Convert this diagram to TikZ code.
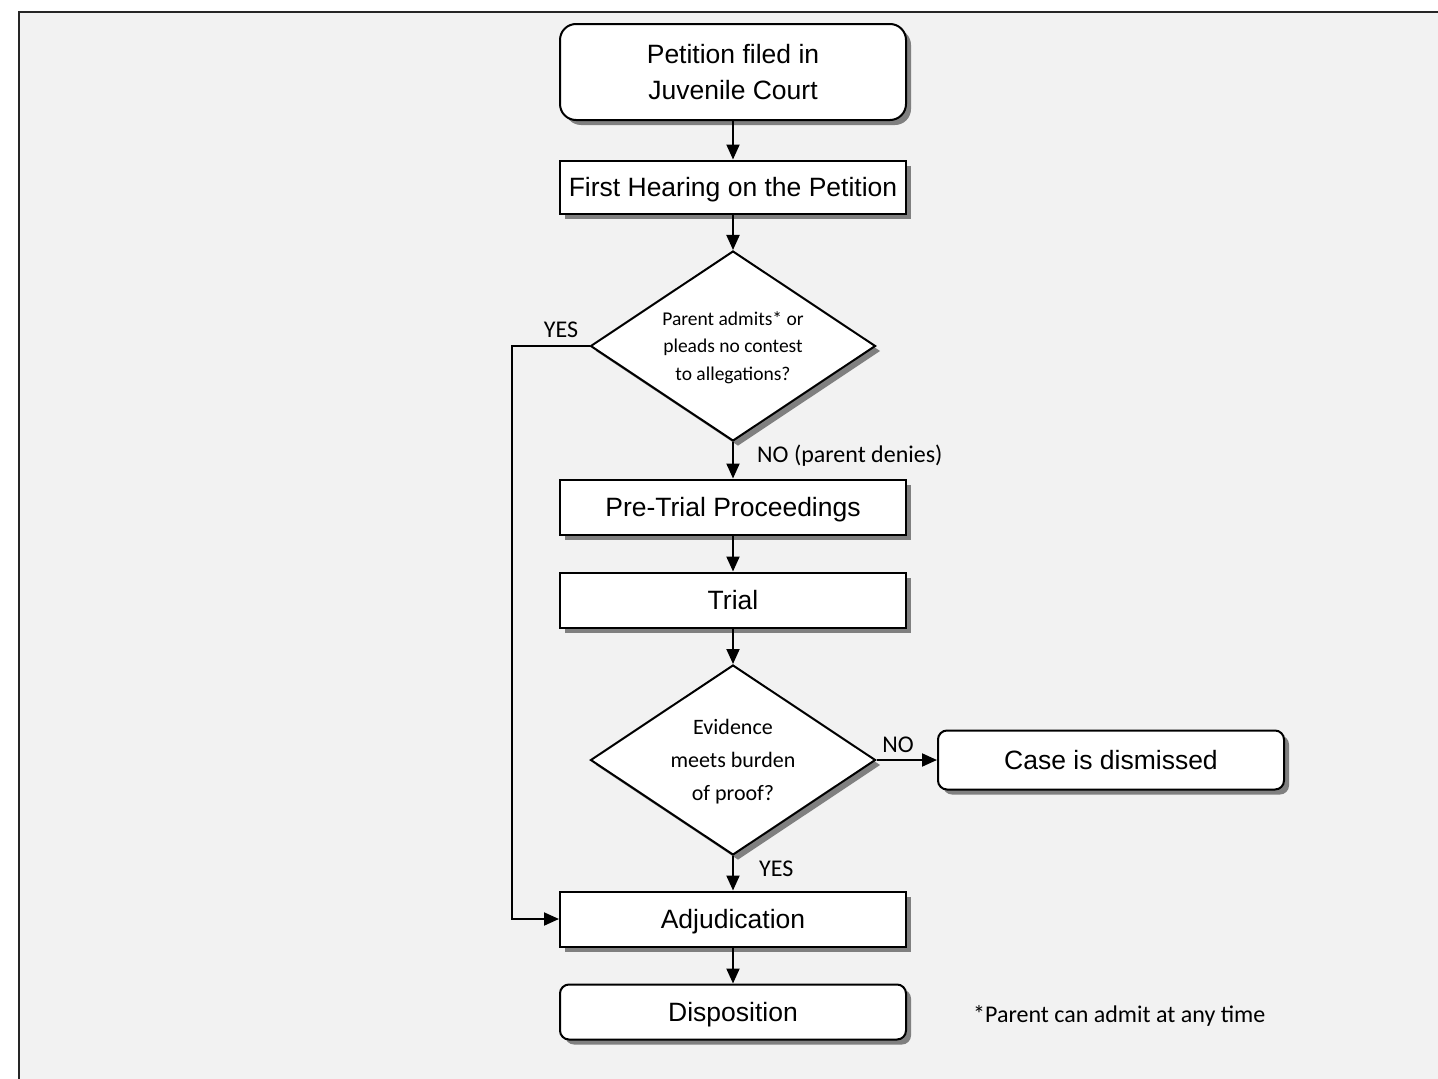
\documentclass[tikz,border=0pt]{standalone}
\usepackage{fontspec}
\setmainfont{Liberation Sans}
\newfontfamily\calib{Carlito}
\usetikzlibrary{shapes.geometric,shadows,arrows.meta}
\begin{document}
\begin{tikzpicture}[x=1pt,y=-1pt,
  shad/.style={drop shadow={shadow xshift=5pt, shadow yshift=-5pt, fill=black!50, opacity=1}},
  box/.style={draw=black, line width=2pt, fill=white, minimum width=346pt, minimum height=55pt, inner sep=0pt, text depth=0pt, font=\fontsize{26.5}{36}\selectfont, align=center, shad},
  rbox/.style={box, rounded corners=9pt},
  dec/.style={diamond, aspect=1.5, draw=black, line width=2pt, fill=white, minimum width=285pt, minimum height=190pt, inner sep=0pt, align=center, shad},
  conn/.style={line width=2pt, -{Triangle[length=15pt,width=13pt]}},
  lab/.style={font=\calib\fontsize{24}{28}\selectfont, inner sep=0pt}
]
\useasboundingbox (0,0) rectangle (1438,1079);
\clip (0,0) rectangle (1438,1079);
\fill[white] (0,0) rectangle (1438,1079);
\draw[line width=2.5pt, draw=black!85, fill=black!5] (19,12) rectangle (1470,1110);

\node[rbox, minimum height=96pt, rounded corners=16pt] (pet) at (733,72) {Petition filed in\\Juvenile Court};
\node[box, minimum height=53pt] (hear) at (733,187) {First Hearing on the Petition};
\node[dec, text depth=-11pt, font=\calib\fontsize{19.5}{27.5}\selectfont] (d1) at (733,346) {Parent admits* or\\pleads no contest\\to allegations?};
\node[box] (pre) at (733,507) {Pre-Trial Proceedings};
\node[box] (trial) at (733,600) {Trial};
\node[dec, text depth=-1pt, font=\calib\fontsize{22}{33}\selectfont] (d2) at (733,760) {Evidence\\meets burden\\of proof?};
\node[rbox, minimum height=59pt] (case) at (1111,760) {Case is dismissed};
\node[box] (adj) at (733,919) {Adjudication};
\node[rbox] (disp) at (733,1012) {Disposition};
\node[lab, anchor=west] (foot) at (973,1016) {*Parent can admit at any time};

\coordinate (yc) at (512,346);
\draw[conn] (pet) -- (hear);
\draw[conn] (hear) -- (d1);
\draw[conn] (d1) -- (pre);
\draw[conn] (pre) -- (trial);
\draw[conn] (trial) -- (d2);
\draw[conn] (d2) -- (case);
\draw[conn] (d2) -- (adj);
\draw[conn] (adj) -- (disp);
\draw[conn] (d1.west) -- (yc) |- (adj.west);

\node[lab] (yes1) at (561,330) {YES};
\node[lab, anchor=west] (no1) at (757,456) {NO (parent denies)};
\node[lab] (no2) at (898,745) {NO};
\node[lab, anchor=west] (yes2) at (759,869) {YES};
\end{tikzpicture}
\end{document}
